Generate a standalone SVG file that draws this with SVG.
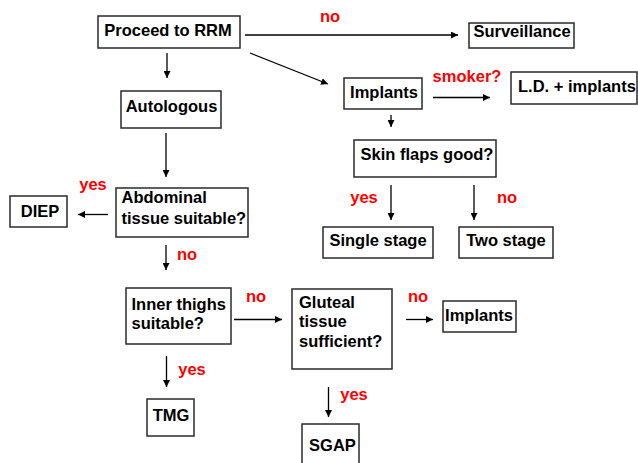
<svg xmlns="http://www.w3.org/2000/svg" width="638" height="463" viewBox="0 0 638 463">
<style>
.box{fill:#fff;stroke:#2a2a2a;stroke-width:1.5}
.t{font-family:"Liberation Sans",Arial,sans-serif;font-weight:bold;font-size:16.5px;fill:#000}
.m{text-anchor:middle}
.r{font-family:"Liberation Sans",Arial,sans-serif;font-weight:bold;font-size:16.5px;fill:#ff0000;text-anchor:middle}
.c{stroke:#000;stroke-width:1.3;fill:none;marker-end:url(#ah)}
</style>
<defs>
<marker id="ah" markerUnits="userSpaceOnUse" markerWidth="8" markerHeight="7" refX="7" refY="3.5" orient="auto">
<path d="M0,0 L7,3.5 L0,7 z" fill="#000"/>
</marker>
</defs>
<rect width="638" height="463" fill="#fff"/>
<g id="connectors">
<line class="c" x1="245" y1="35" x2="458" y2="35"/>
<line class="c" x1="167" y1="53" x2="167" y2="78"/>
<line class="c" x1="250" y1="53" x2="328" y2="84"/>
<line class="c" x1="433" y1="97.5" x2="490" y2="97.5"/>
<line class="c" x1="391" y1="115" x2="391" y2="127"/>
<line class="c" x1="391" y1="185" x2="391" y2="220"/>
<line class="c" x1="474" y1="185" x2="474" y2="220"/>
<line class="c" x1="166" y1="133" x2="166" y2="177"/>
<line class="c" x1="108" y1="214.5" x2="78" y2="214.5"/>
<line class="c" x1="166" y1="245" x2="166" y2="270"/>
<line class="c" x1="234" y1="319.5" x2="282" y2="319.5"/>
<line class="c" x1="166.5" y1="356" x2="166.5" y2="387"/>
<line class="c" x1="406" y1="319.5" x2="433" y2="319.5"/>
<line class="c" x1="328.5" y1="387" x2="328.5" y2="417"/>
<text class="r" x="330" y="22">no</text>
<text class="r" x="467" y="82">smoker?</text>
<text class="r" x="364" y="203">yes</text>
<text class="r" x="507" y="203">no</text>
<text class="r" x="93" y="190">yes</text>
<text class="r" x="187" y="259.5">no</text>
<text class="r" x="256" y="302">no</text>
<text class="r" x="418" y="302">no</text>
<text class="r" x="192" y="375">yes</text>
<text class="r" x="354" y="400">yes</text>
</g>
<g id="proceed"><rect class="box" x="98" y="16" width="142" height="32"/><text class="t m" x="168" y="35.5">Proceed to RRM</text></g>
<g id="surveillance"><rect class="box" x="469" y="23" width="105" height="25"/><text class="t m" x="522" y="37">Surveillance</text></g>
<g id="autologous"><rect class="box" x="121" y="91" width="100" height="37"/><text class="t m" x="171.5" y="112">Autologous</text></g>
<g id="implants"><rect class="box" x="344" y="78" width="78" height="31"/><text class="t m" x="384" y="98">Implants</text></g>
<g id="ld-implants"><rect class="box" x="511" y="72" width="126" height="32"/><text class="t" x="518" y="92">L.D. + implants</text></g>
<g id="skin-flaps"><rect class="box" x="354" y="140" width="142" height="37"/><text class="t m" x="427" y="159.5">Skin flaps good?</text></g>
<g id="single-stage"><rect class="box" x="323" y="227" width="110" height="31"/><text class="t m" x="378" y="245.5">Single stage</text></g>
<g id="two-stage"><rect class="box" x="459" y="227" width="94" height="31"/><text class="t m" x="506" y="245.5">Two stage</text></g>
<g id="abdominal"><rect class="box" x="116" y="188" width="132" height="49"/><text class="t" x="121.5" y="203">Abdominal</text><text class="t" x="121.5" y="223.5">tissue suitable?</text></g>
<g id="diep"><rect class="box" x="10" y="196" width="57" height="31"/><text class="t m" x="40" y="216.5">DIEP</text></g>
<g id="inner-thighs"><rect class="box" x="126" y="288" width="105" height="56"/><text class="t" x="131.5" y="309.5">Inner thighs</text><text class="t" x="131.5" y="328.5">suitable?</text></g>
<g id="gluteal"><rect class="box" x="292" y="289" width="100" height="80"/><text class="t" x="299" y="307.5">Gluteal</text><text class="t" x="299" y="327">tissue</text><text class="t" x="299" y="346.5">sufficient?</text></g>
<g id="implants2"><rect class="box" x="443" y="301" width="73" height="31"/><text class="t m" x="479" y="320.5">Implants</text></g>
<g id="tmg"><rect class="box" x="147" y="399" width="47" height="37"/><text class="t m" x="171" y="421">TMG</text></g>
<g id="sgap"><rect class="box" x="302" y="424" width="57" height="45"/><text class="t m" x="332.5" y="450.5">SGAP</text></g>
</svg>
